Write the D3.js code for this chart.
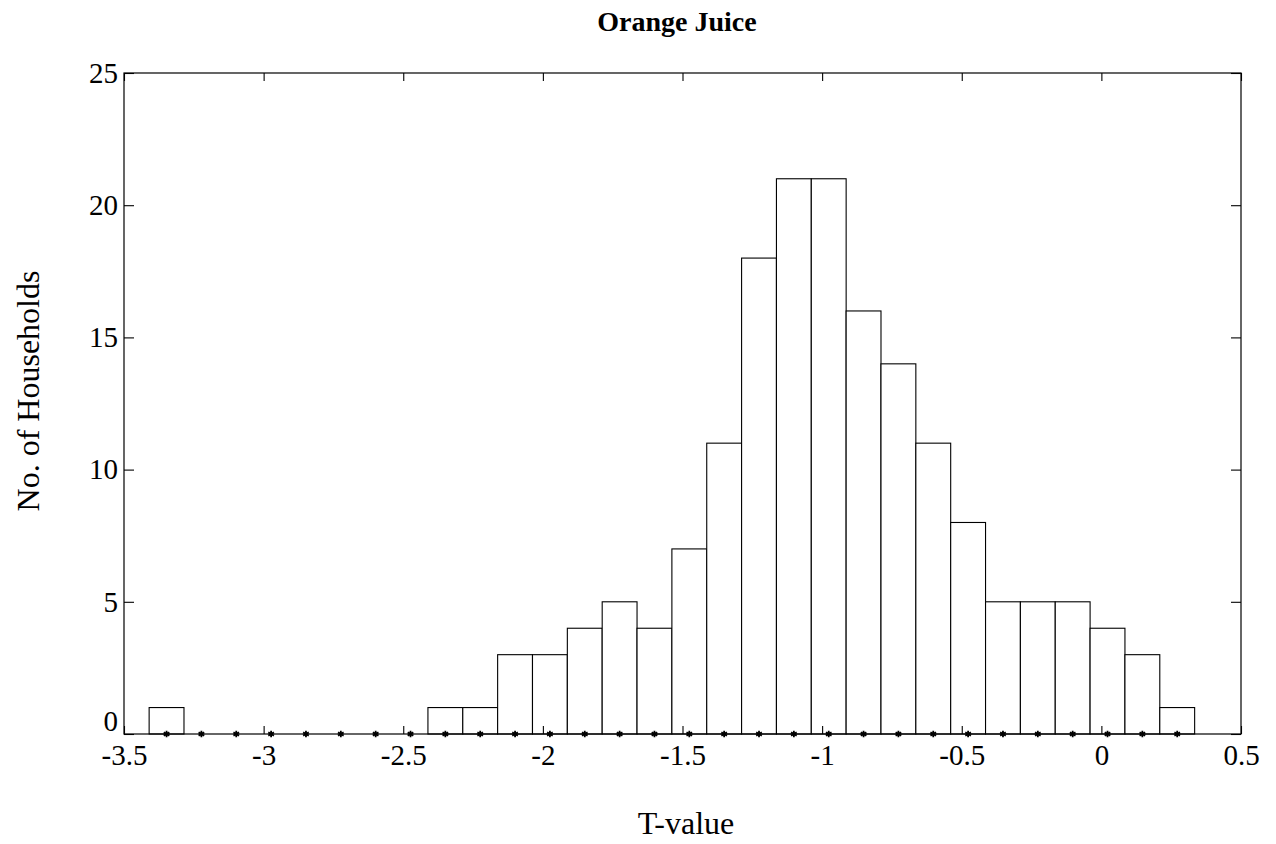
<!DOCTYPE html>
<html><head><meta charset="utf-8">
<script src="https://cdn.jsdelivr.net/npm/d3@7"></script>
<style>body{margin:0;background:#fff}svg{display:block}text{font-family:"Liberation Serif","Times New Roman",serif;fill:#000}</style>
</head><body><svg id="c" width="1276" height="844"></svg>
<script>
const binStart = -3.41;
const binWidth = 0.1248;
const counts = [1,0,0,0,0,0,0,0,1,1,3,3,4,5,4,7,11,18,21,21,16,14,11,8,5,5,5,4,3,1];
const xTicks = [-3.5,-3,-2.5,-2,-1.5,-1,-0.5,0,0.5];
const yTicks = [0,5,10,15,20,25];
const title = "Orange Juice", xLabel = "T-value", yLabel = "No. of Households";

const svg = d3.select("#c");
const L=124,R=1241,T=73,B=734;
const x = d3.scaleLinear().domain([-3.5,0.5]).range([L,R]);
const y = d3.scaleLinear().domain([0,25]).range([B,T]);
const bins = counts.map((c,i)=>({x0:binStart+i*binWidth,x1:binStart+(i+1)*binWidth,c}));

svg.append("g").selectAll("rect").data(bins.filter(d=>d.c>0)).join("rect")
  .attr("x",d=>x(d.x0)).attr("width",d=>x(d.x1)-x(d.x0))
  .attr("y",d=>y(d.c)).attr("height",d=>y(0)-y(d.c))
  .attr("fill","#fff").attr("stroke","#000").attr("stroke-width",1.1);

svg.append("g").selectAll("path").data(bins).join("path")
  .attr("transform",d=>`translate(${x((d.x0+d.x1)/2)},${y(0)})`)
  .attr("d",d3.symbol(d3.symbolAsterisk,30)).attr("stroke","#000").attr("stroke-width",1.8).attr("fill","none");

svg.append("rect").attr("x",L).attr("y",T).attr("width",R-L).attr("height",B-T)
  .attr("fill","none").attr("stroke","#000").attr("stroke-width",1.2);

const fs=29;
const fmt = d => String(d);
const xa = svg.append("g").attr("transform",`translate(0,${B})`)
  .call(d3.axisBottom(x).tickValues(xTicks).tickSize(-8).tickPadding(10).tickFormat(fmt));
const xt = svg.append("g").attr("transform",`translate(0,${T})`)
  .call(d3.axisTop(x).tickValues(xTicks).tickSize(-8).tickFormat(""));
const ya = svg.append("g").attr("transform",`translate(${L},0)`)
  .call(d3.axisLeft(y).tickValues(yTicks).tickSize(-10).tickPadding(6).tickFormat(fmt));
const yr = svg.append("g").attr("transform",`translate(${R},0)`)
  .call(d3.axisRight(y).tickValues(yTicks).tickSize(-10).tickFormat(""));
[xa,xt,ya,yr].forEach(g=>{g.select(".domain").remove();
  g.selectAll("line").attr("stroke","#000").attr("stroke-width",1.1);
  g.selectAll("text").attr("font-size",fs).attr("font-family","Liberation Serif").attr("fill","#000");});
ya.selectAll(".tick").filter(d=>d===0).select("text").attr("dy","-0.12em");

svg.append("text").attr("x",677).attr("y",31).attr("text-anchor","middle")
  .attr("font-size",28).attr("font-weight","bold").text(title);
svg.append("text").attr("x",686).attr("y",834).attr("text-anchor","middle")
  .attr("font-size",32).text(xLabel);
svg.append("text").attr("transform","translate(39,391) rotate(-90)").attr("text-anchor","middle")
  .attr("font-size",32).text(yLabel);
</script></body></html>
